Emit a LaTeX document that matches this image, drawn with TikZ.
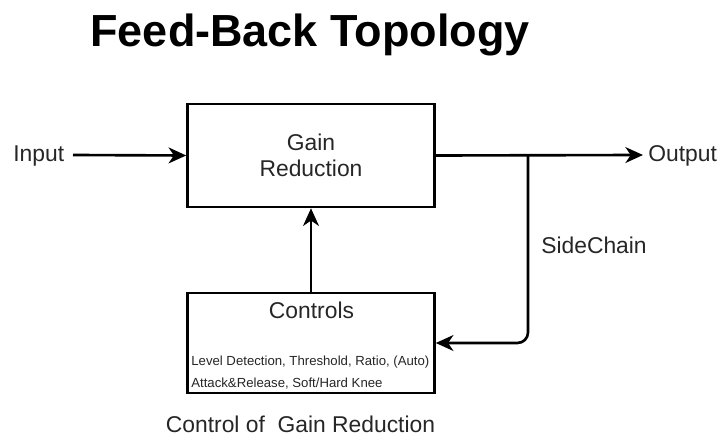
\documentclass[tikz,border=0pt]{standalone}
\usepackage{fontspec}
\setmainfont{Liberation Sans}
\usetikzlibrary{arrows.meta}
\tikzset{
  block/.style={draw, line width=1.5pt, minimum width=4.94cm, inner sep=0pt},
  flow/.style={line width=1.5pt, -{Stealth[length=10pt, width=9pt, inset=3pt]}},
  label text/.style={text=black!85, font=\fontsize{13}{14.5}\selectfont},
  small text/.style={text=black!85, font=\fontsize{7.5}{9}\selectfont, inner sep=0pt, anchor=west},
}
\begin{document}
\begin{tikzpicture}[x=0.02cm, y=-0.02cm]
  \useasboundingbox (0,0) rectangle (719,438);

  \node [font=\bfseries\fontsize{25.6}{30}\selectfont, anchor=base, inner sep=0pt] (title) at (310,47) {Feed-Back Topology};

  % blocks
  \node [block, minimum height=2.06cm, label text, align=center] (gain) at (311,155.5) {Gain\\Reduction};
  \node [block, minimum height=2.0cm] (ctrl) at (311,343) {};
  \node [label text] (ctrltitle) at (311.5,310) {Controls};
  \node [small text] (ctrlline1) at (191,362) {Level Detection, Threshold, Ratio, (Auto)};
  \node [small text] (ctrlline2) at (191,384) {Attack\&Release, Soft/Hard Knee};

  % terminals
  \node [label text, anchor=west, inner sep=0pt] (input) at (13,156) {Input};
  \coordinate (inputend) at (73,155);
  \node [label text, anchor=west, inner sep=0pt] (output) at (648,156) {Output};
  \coordinate (outputend) at (643,155);
  \coordinate (tap) at (528,155);

  \draw [flow] (inputend) -- (gain.west);
  \draw [flow] (gain.east) -- (outputend);
  \draw [flow] (ctrl.north) -- (gain.south);
  \draw [flow, rounded corners=6pt] (tap) |- (ctrl.east);

  \node [label text, anchor=base, inner sep=0pt] (sidechain) at (594,254) {SideChain};
  \node [label text, anchor=base, inner sep=0pt] (caption) at (300.5,432) {Control of\ \ Gain Reduction};
\end{tikzpicture}
\end{document}
